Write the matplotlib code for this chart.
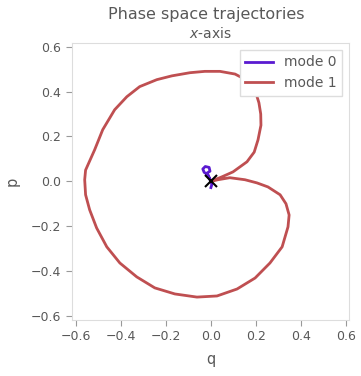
import numpy as np
import matplotlib.pyplot as plt

# mode 1 trajectory (q, p)
q1 = [0.0, 0.049, 0.098, 0.16, 0.192, 0.209, 0.222, 0.221, 0.213, 0.196, 0.16,
      0.107, 0.04, -0.027, -0.093, -0.173, -0.24, -0.316, -0.373, -0.427,
      -0.48, -0.516, -0.556, -0.56, -0.556, -0.538, -0.507, -0.462, -0.404,
      -0.329, -0.249, -0.16, -0.062, 0.027, 0.116, 0.196, 0.262, 0.316, 0.342,
      0.347, 0.333, 0.307, 0.253, 0.204, 0.151, 0.084, 0.031, 0.0]
p1 = [0.0, 0.02, 0.042, 0.087, 0.13, 0.185, 0.25, 0.3, 0.35, 0.405, 0.45,
      0.478, 0.49, 0.49, 0.484, 0.47, 0.453, 0.422, 0.377, 0.319,
      0.23, 0.14, 0.05, 0.007, -0.06, -0.127, -0.208, -0.292, -0.364,
      -0.426, -0.475, -0.502, -0.516, -0.511, -0.48, -0.431, -0.364, -0.292, -0.203,
      -0.15, -0.1, -0.06, -0.025, -0.007, 0.007, 0.016, 0.007, 0.0]

# mode 0 trajectory: small wiggle near the origin
q0 = [0.0, -0.012, -0.03, -0.036, -0.025, -0.008, -0.004, -0.02, -0.012, 0.0, 0.004, 0.0]
p0 = [0.0, 0.028, 0.04, 0.055, 0.066, 0.062, 0.045, 0.035, 0.02, 0.0, -0.015, -0.028]

txt = '#585858'
plt.rcParams['text.color'] = txt
plt.rcParams['axes.labelcolor'] = txt
plt.rcParams['xtick.color'] = txt
plt.rcParams['ytick.color'] = txt

fig = plt.figure(figsize=(3.61, 3.76), dpi=100)
ax = fig.add_axes([0.199, 0.149, 0.768, 0.737])

ax.plot(q0, p0, color='#5a1ad0', lw=2, label='mode 0')
ax.plot(q1, p1, color='#bf4f51', lw=2, label='mode 1')
ax.plot([0], [0], 'x', color='black', ms=9, mew=1.5)

ax.set_xlim(-0.617, 0.613)
ax.set_ylim(-0.618, 0.617)
ax.set_xticks([-0.6, -0.4, -0.2, 0.0, 0.2, 0.4, 0.6])
ax.set_yticks([-0.6, -0.4, -0.2, 0.0, 0.2, 0.4, 0.6])
ax.tick_params(labelsize=9, length=4, width=0.8, color='#999999')
for s in ax.spines.values():
    s.set_color('#dddddd')

ax.set_xlabel('q', fontsize=10.5, labelpad=6)
ax.set_ylabel('p', fontsize=10.5, labelpad=8)

fig.text(0.571, 0.962, 'Phase space trajectories', ha='center', va='center', fontsize=11.5)
fig.text(0.583, 0.912, '$x$-axis', ha='center', va='center', fontsize=10)

leg = ax.legend(loc='upper right', fontsize=10, handlelength=2.0,
                borderaxespad=0.5, framealpha=1, fancybox=False)
leg.get_frame().set_edgecolor('#dddddd')

fig.savefig('out.png', dpi=100)
